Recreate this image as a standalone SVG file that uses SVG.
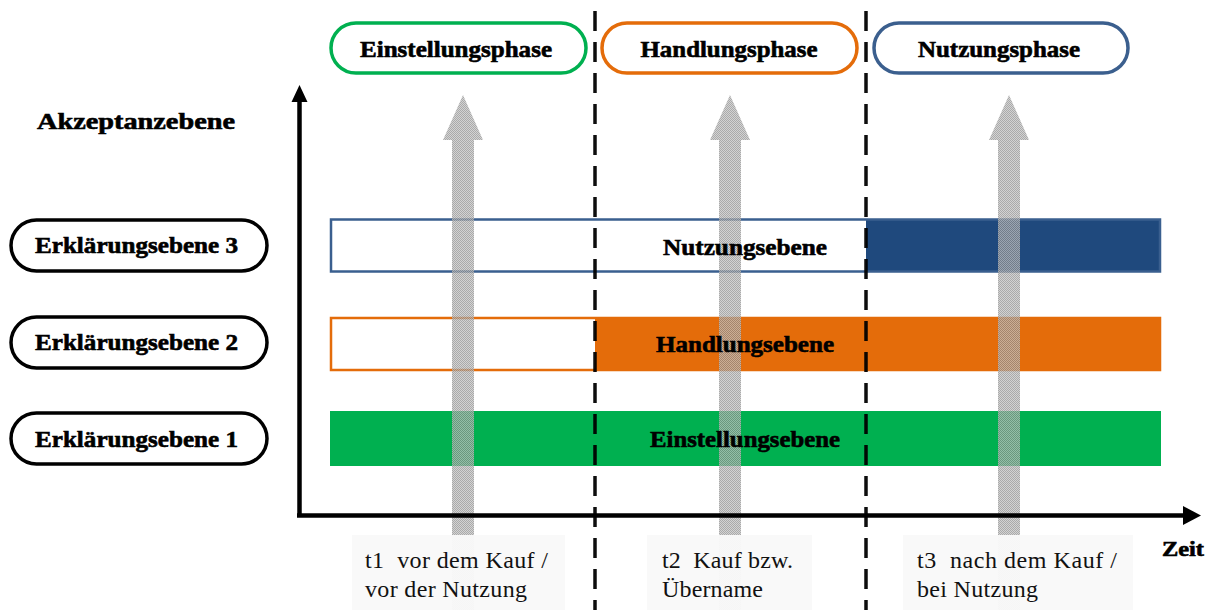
<svg xmlns="http://www.w3.org/2000/svg" width="1212" height="610" viewBox="0 0 1212 610">
<defs>
<style>
.b{font-family:"Liberation Serif","Times New Roman",serif;font-weight:bold;fill:#000;stroke:#000;stroke-width:0.6}
.r{font-family:"Liberation Serif","Times New Roman",serif;font-size:24px;fill:#111}
.pill{fill:#fff;stroke-width:3.5}
.dash{stroke:#000;stroke-width:3.5;stroke-dasharray:20 11;stroke-opacity:0.95}
.garrow{fill:url(#chk);fill-opacity:0.75}
.tbox{fill:#f9f9f9;fill-opacity:0.97}
</style>
<pattern id="chk" width="2" height="2" patternUnits="userSpaceOnUse">
<rect width="2" height="2" fill="#c4c4c4"/>
<rect width="1" height="1" fill="#8e8e8e"/>
<rect x="1" y="1" width="1" height="1" fill="#8e8e8e"/>
</pattern>
</defs>
<rect width="1212" height="610" fill="#fff"/>

<g id="phase-einstellung">
<rect class="pill" x="331" y="23" width="255" height="50" rx="25" stroke="#00B050"/>
<text class="b" x="456" y="57" font-size="23" text-anchor="middle" textLength="192" lengthAdjust="spacingAndGlyphs">Einstellungsphase</text>
</g>
<g id="phase-handlung">
<rect class="pill" x="602" y="23" width="255" height="50" rx="25" stroke="#E46C0A"/>
<text class="b" x="729" y="57" font-size="23" text-anchor="middle" textLength="177" lengthAdjust="spacingAndGlyphs">Handlungsphase</text>
</g>
<g id="phase-nutzung">
<rect class="pill" x="874" y="23" width="254" height="50" rx="25" stroke="#3B5F8E"/>
<text class="b" x="999" y="57" font-size="23" text-anchor="middle" textLength="162" lengthAdjust="spacingAndGlyphs">Nutzungsphase</text>
</g>

<g id="akzeptanz">
<text class="b" x="37" y="129" font-size="23" textLength="198" lengthAdjust="spacingAndGlyphs">Akzeptanzebene</text>
</g>

<g id="ebene-3">
<rect class="pill" x="11" y="220" width="256" height="51" rx="25.5" stroke="#000"/>
<text class="b" x="35" y="253" font-size="23" textLength="203" lengthAdjust="spacingAndGlyphs" xml:space="preserve">Erklärungsebene 3</text>
</g>
<g id="ebene-2">
<rect class="pill" x="11" y="317" width="256" height="51" rx="25.5" stroke="#000"/>
<text class="b" x="35" y="350" font-size="23" textLength="203" lengthAdjust="spacingAndGlyphs" xml:space="preserve">Erklärungsebene 2</text>
</g>
<g id="ebene-1">
<rect class="pill" x="11" y="413" width="256" height="51" rx="25.5" stroke="#000"/>
<text class="b" x="35" y="447" font-size="23" textLength="203" lengthAdjust="spacingAndGlyphs" xml:space="preserve">Erklärungsebene 1</text>
</g>

<g id="bar-nutzung">
<rect x="331" y="219.5" width="829" height="52" fill="#fff"/>
<rect x="866" y="219" width="295" height="53" fill="#1F497D"/>
<rect x="331" y="219.5" width="829" height="52" fill="none" stroke="#3A5F8F" stroke-width="2.5"/>
</g>
<g id="bar-handlung">
<rect x="331" y="318" width="829" height="52" fill="#fff" stroke="#E46C0A" stroke-width="2.5"/>
<rect x="595" y="317" width="566" height="54" fill="#E46C0A"/>
</g>
<g id="bar-einstellung">
<rect x="330" y="411" width="831" height="55" fill="#00B050"/>
</g>

<g id="connectors">
<line class="dash" x1="595" y1="11" x2="595" y2="610"/>
<line class="dash" x1="866" y1="11" x2="866" y2="610"/>
<path class="garrow" d="M463 95 L483 140 L474 140 L474 610 L452 610 L452 140 L443 140 Z"/>
<path class="garrow" d="M730 95 L750 140 L741 140 L741 610 L719 610 L719 140 L710 140 Z"/>
<path class="garrow" d="M1009 95 L1029 140 L1020 140 L1020 610 L998 610 L998 140 L989 140 Z"/>
<line x1="299.5" y1="517" x2="299.5" y2="100" stroke="#000" stroke-width="4.5"/>
<polygon points="299.5,85 291.5,102 307.5,102" fill="#000"/>
<line x1="297" y1="515.5" x2="1186" y2="515.5" stroke="#000" stroke-width="4.5"/>
<polygon points="1201,515.5 1183,506 1183,525" fill="#000"/>
</g>

<g id="bar-labels">
<text class="b" x="745" y="255" font-size="23" text-anchor="middle" textLength="164" lengthAdjust="spacingAndGlyphs">Nutzungsebene</text>
<text class="b" x="745" y="352" font-size="23" text-anchor="middle" textLength="178" lengthAdjust="spacingAndGlyphs">Handlungsebene</text>
<text class="b" x="745" y="447" font-size="23" text-anchor="middle" textLength="190" lengthAdjust="spacingAndGlyphs">Einstellungsebene</text>
</g>

<g id="t1">
<rect class="tbox" x="352" y="535" width="213" height="75"/>
<text class="r" x="365" y="568" textLength="183" lengthAdjust="spacing" xml:space="preserve">t1  vor dem Kauf /</text>
<text class="r" x="365" y="597" textLength="162" lengthAdjust="spacing">vor der Nutzung</text>
</g>
<g id="t2">
<rect class="tbox" x="647" y="535" width="165" height="75"/>
<text class="r" x="662" y="568" textLength="131" lengthAdjust="spacing" xml:space="preserve">t2  Kauf bzw.</text>
<text class="r" x="662" y="597" textLength="101" lengthAdjust="spacing">Übername</text>
</g>
<g id="t3">
<rect class="tbox" x="903" y="535" width="230" height="75"/>
<text class="r" x="917" y="568" textLength="200" lengthAdjust="spacing" xml:space="preserve">t3  nach dem Kauf /</text>
<text class="r" x="917" y="597" textLength="121" lengthAdjust="spacing">bei Nutzung</text>
</g>

<g id="zeit">
<text class="b" x="1162" y="556" font-size="20" textLength="42" lengthAdjust="spacingAndGlyphs">Zeit</text>
</g>
</svg>
